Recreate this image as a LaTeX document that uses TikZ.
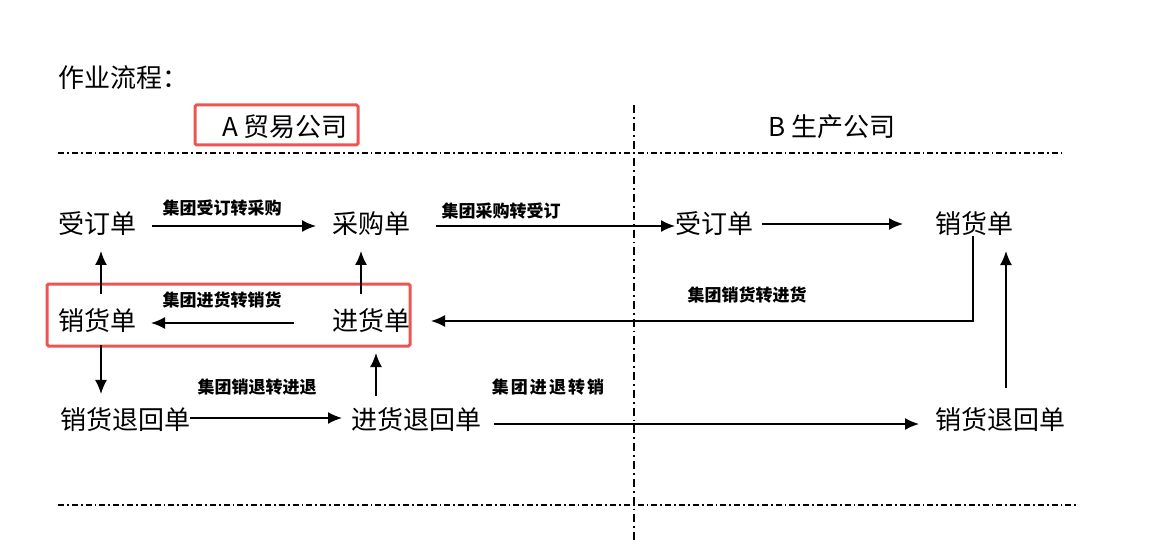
\documentclass[tikz,border=0pt]{standalone}
\usepackage{fontspec}
\setmainfont{Noto Sans CJK SC}
\usepackage{xcolor}
\usepackage{tikz}
\usetikzlibrary{arrows.meta}

\definecolor{boxred}{RGB}{238,84,82}

\tikzset{
    doc/.style={font=\fontsize{26}{30}\selectfont, inner sep=0pt, outer sep=0pt},
    lbl/.style={font=\fontsize{17}{20}\selectfont\bfseries, inner sep=0pt},
    flow/.style={line width=1.6pt, -{Latex[length=14pt,width=12pt]}},
    divider/.style={line width=1.8pt, dash pattern=on 6pt off 3pt on 1.8pt off 3pt},
    vdivider/.style={line width=1.6pt, dash pattern=on 8pt off 4pt on 1.8pt off 4pt},
    hilite/.style={draw=boxred, line width=3pt, rounded corners=1.5pt},
}

\begin{document}
\begin{tikzpicture}[x=1pt, y=-1pt]
        \useasboundingbox (0, 0) rectangle (1162, 556);

        % title and company headers
        \node[doc, anchor=west] (title) at (58, 78) {作业流程：};
        \node[doc] (compa) at (285, 127) {A 贸易公司};
        \node[doc] (compb) at (832, 127) {B 生产公司};
        \draw[hilite] (195, 105) rectangle (358, 145); % A box

        % dividers
        \draw[divider]  ( 58, 153) -- (1062, 153); % Top    Line
        \draw[divider]  ( 58, 505) -- (1077, 505); % Bottom Line
        \draw[vdivider] (634, 105) -- ( 634, 540); % Middle Line

        % A company documents
        \node[doc] (aorder) at ( 97, 224) {受订单};
        \node[doc] (apurch) at (371, 224) {采购单};
        \node[doc] (asale)  at ( 97, 321) {销货单};
        \node[doc] (ain)    at (371, 321) {进货单};
        \node[doc] (aret)   at (125, 420) {销货退回单};
        \node[doc] (aback)  at (416, 420) {进货退回单};
        \draw[hilite] (47, 284) rectangle (410, 346); % sale/in box

        % B company documents
        \node[doc] (border) at ( 714, 224) {受订单};
        \node[doc] (bsale)  at ( 974, 224) {销货单};
        \node[doc] (bret)   at (1000, 420) {销货退回单};

        % top row
        \draw[flow, shorten <=16pt, shorten >=16pt] ([yshift=-2pt]aorder.east) -- ([yshift=-2pt]apurch.west);
        \draw[flow, shorten <=26pt] ([yshift=-2pt]apurch.east) -- ([yshift=-2pt]border.west);
        \draw[flow, shorten <=9pt, shorten >=32pt] (border.east) -- (bsale.west);

        % middle row
        \draw[flow, shorten >=21pt] ([xshift=-1pt]bsale.south) |- (ain.east);
        \draw[flow, shorten <=38pt, shorten >=15pt] ([yshift=-2pt]ain.west) -- ([yshift=-2pt]asale.east);

        % vertical links
        \draw[flow, shorten <=15pt, shorten >=15pt] ([xshift=4pt]asale.north) -- ([xshift=4pt]aorder.south);
        \draw[flow, shorten <=15pt, shorten >=15pt] ([xshift=-10pt]ain.north) -- ([xshift=-10pt]apurch.south);
        \draw[flow, shorten <=12pt, shorten >=14pt] ([xshift=4pt]asale.south) -- ([xshift=4pt]asale.south |- aret.north);
        \draw[flow, shorten <=12pt, shorten >=20pt] ([xshift=5pt]ain.south |- aback.north) -- ([xshift=5pt]ain.south);
        \draw[flow, shorten <=20pt, shorten >=15pt] ([xshift=6pt]bret.north) -- ([xshift=6pt]bret.north |- bsale.south);

        % bottom row
        \draw[flow, shorten >=9pt] ([yshift=2pt]aret.east) -- ([yshift=2pt]aback.west);
        \draw[flow, shorten <=13pt, shorten >=16pt] ([yshift=-4pt]aback.east) -- ([yshift=-4pt]bret.west);

        % connector labels
        \node[lbl] (l1) at (222, 208) {集团受订转采购};
        \node[lbl] (l2) at (501, 211) {集团采购转受订};
        \node[lbl] (l3) at (747, 295) {集团销货转进货};
        \node[lbl] (l4) at (222, 300) {集团进货转销货};
        \node[lbl] (l5) at (257, 387) {集团销退转进退};
        \node[lbl] (l6) at (548, 387) {\addfontfeature{LetterSpace=12}集团进退转销};
    \end{tikzpicture}
\end{document}
